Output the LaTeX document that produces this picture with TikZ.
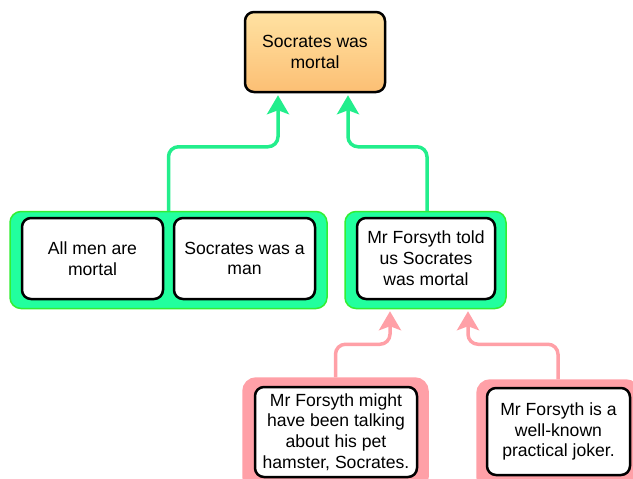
\documentclass[tikz,border=0pt]{standalone}
\usepackage{fontspec}
\setmainfont{Liberation Sans}
\usetikzlibrary{arrows.meta,calc}
\definecolor{gfill}{HTML}{22FF9E}
\definecolor{gborder}{HTML}{33EE33}
\definecolor{garr}{HTML}{22EE8C}
\definecolor{pfill}{HTML}{FFA0A7}
\definecolor{otop}{HTML}{FFE2A2}
\definecolor{obot}{HTML}{FCBF74}
\tikzset{
  x=1pt,y=-1pt,
  txt/.style={font=\fontsize{17.6}{20.8}\selectfont, align=center, inner sep=0pt},
  claim/.style={txt, draw=black, line width=2.5pt, rounded corners=9pt, fill=white},
  topclaim/.style={claim, top color=otop, bottom color=obot},
  ggroup/.style={draw=gborder, line width=1.5pt, fill=gfill, rounded corners=11pt, inner sep=0pt},
  pgroup/.style={draw=pfill, line width=1.5pt, fill=pfill, rounded corners=13pt, inner sep=0pt},
  garrow/.style={draw=garr, line width=3.5pt, rounded corners=10pt, -{Stealth[length=19pt,width=22pt,inset=4pt]}},
  parrow/.style={draw=pfill, line width=3.5pt, rounded corners=10pt, -{Stealth[length=19pt,width=22pt,inset=4pt]}},
}
\begin{document}
\begin{tikzpicture}
\useasboundingbox (0,0) rectangle (633,479);
\clip (0,0) rectangle (633,479);
% groups
\node[ggroup, minimum width=317pt, minimum height=97pt] (g1) at (168.5,260) {};
\node[ggroup, minimum width=161pt, minimum height=97pt] (g2) at (425.5,260) {};
\node[pgroup, minimum width=185pt, minimum height=112pt] (p1) at (335.5,434) {};
\node[pgroup, minimum width=162pt, minimum height=110pt] (p2) at (558,435) {};
% claims
\node[topclaim, minimum width=140pt, minimum height=80pt] (top) at (315,52) {Socrates was\\mortal};
\node[claim, minimum width=141pt, minimum height=81pt] (a) at (92.5,258.5) {All men are\\mortal};
\node[claim, minimum width=141pt, minimum height=81pt] (b) at (244.5,258.5) {Socrates was a\\man};
\node[claim, minimum width=138pt, minimum height=81pt] (c) at (426,258.5) {Mr Forsyth told\\us Socrates\\was mortal};
\node[claim, minimum width=162pt, minimum height=90pt] (d) at (336,432) {Mr Forsyth might\\have been talking\\about his pet\\hamster, Socrates.};
\node[claim, minimum width=143pt, minimum height=87pt] (e) at (558.5,431.5) {Mr Forsyth is a\\well-known\\practical joker.};
% connectors
\draw[garrow] (g1.north) -- ++(0,-64) -| ([xshift=-37pt,yshift=-2pt]top.south);
\draw[garrow] ([xshift=1.5pt]g2.north) -- ++(0,-64) -| ([xshift=33pt,yshift=-2pt]top.south);
\draw[parrow] (p1.north) -- ++(0,-33) -| ([xshift=-35.5pt,yshift=-2pt]g2.south);
\draw[parrow] (p2.north) -- ++(0,-35) -| ([xshift=42.5pt,yshift=-2pt]g2.south);
\end{tikzpicture}
\end{document}
